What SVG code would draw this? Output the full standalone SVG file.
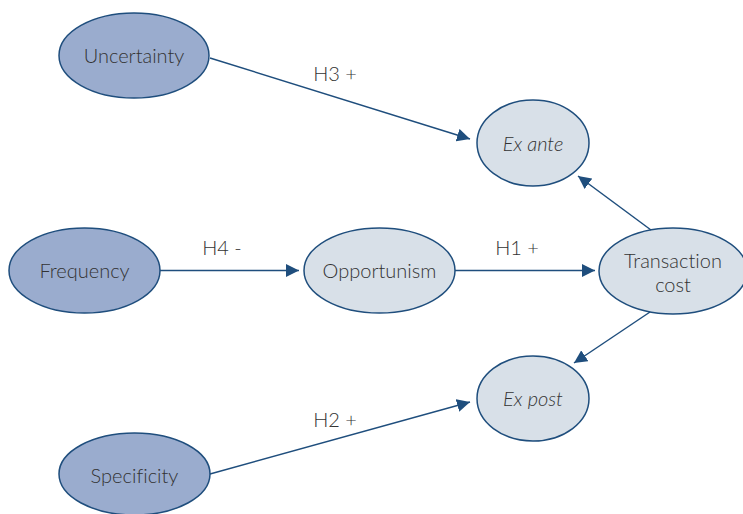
<svg xmlns="http://www.w3.org/2000/svg" width="743" height="514" viewBox="0 0 743 514">
<defs>
<marker id="ah" viewBox="0 0 10 10" refX="10" refY="5" markerWidth="13" markerHeight="13" markerUnits="userSpaceOnUse" orient="auto">
<path d="M0,0 L10,5 L0,10 z" fill="#1f4e7d"/>
</marker>
<style>
.dark{fill:#9aacce;stroke:#1f4e7d;stroke-width:1.5}
.light{fill:#d8e0e8;stroke:#1f4e7d;stroke-width:1.5}
text{font-family:Lato,"Liberation Sans",sans-serif;font-weight:300;font-size:20px;fill:#333333;text-anchor:middle;font-variant-ligatures:none}
.it{font-style:italic}
.edge{stroke:#1f4e7d;stroke-width:1.5;fill:none;marker-end:url(#ah)}
</style>
</defs>
<g id="uncertainty"><ellipse class="dark" cx="134" cy="55.5" rx="75" ry="42.5"/><text x="134" y="63">Uncertainty</text></g>
<g id="frequency"><ellipse class="dark" cx="84.5" cy="270.5" rx="75.5" ry="42.5"/><text x="84.5" y="278">Frequency</text></g>
<g id="specificity"><ellipse class="dark" cx="134.5" cy="474" rx="75.5" ry="41"/><text x="134.5" y="483">Specificity</text></g>
<g id="opportunism"><ellipse class="light" cx="379.5" cy="270.5" rx="75.5" ry="42.5"/><text x="379.5" y="278">Opportunism</text></g>
<g id="exante"><ellipse class="light" cx="533" cy="143" rx="56" ry="43"/><text class="it" x="533" y="151">Ex ante</text></g>
<g id="expost"><ellipse class="light" cx="533" cy="398.5" rx="56" ry="42.5"/><text class="it" x="533" y="406">Ex post</text></g>
<g id="transaction"><ellipse class="light" cx="673" cy="271" rx="74" ry="43"/><text x="673" y="268">Transaction</text><text x="673" y="292">cost</text></g>
<g id="connectors">
<line class="edge" x1="210" y1="58" x2="470" y2="139"/>
<line class="edge" x1="160" y1="270.5" x2="299" y2="270.5"/>
<line class="edge" x1="455" y1="270.5" x2="595" y2="270.5"/>
<line class="edge" x1="651" y1="230" x2="578" y2="176"/>
<line class="edge" x1="650" y1="312" x2="574" y2="363"/>
<line class="edge" x1="210" y1="474" x2="470" y2="402"/>
<text x="335" y="81">H3 +</text>
<text x="222" y="255">H4 -</text>
<text x="517" y="255">H1 +</text>
<text x="335" y="427">H2 +</text>
</g>
</svg>
